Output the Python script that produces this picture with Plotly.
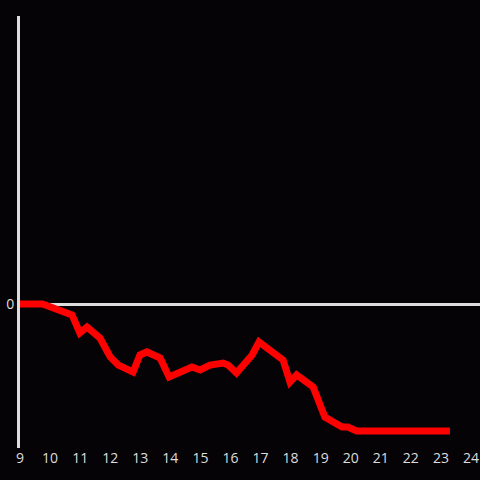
import plotly.graph_objects as go

# time of day (hours) and cumulative value
hours = [9.0, 9.75, 10.73, 10.99, 11.23, 11.66, 12.0, 12.27, 12.76, 12.99, 13.22,
         13.66, 13.96, 14.72, 14.99, 15.32, 15.76, 15.92, 16.2, 16.72, 16.95,
         17.75, 17.98, 18.2, 18.75, 18.98, 19.14, 19.71, 19.9, 20.2, 23.3]
values = [0.0, 0.0, -0.076, -0.201, -0.160, -0.236, -0.368, -0.424, -0.472, -0.354, -0.333,
          -0.375, -0.507, -0.438, -0.458, -0.424, -0.410, -0.424, -0.479, -0.354, -0.264,
          -0.389, -0.542, -0.493, -0.576, -0.715, -0.785, -0.854, -0.854, -0.882, -0.882]
x_ticks = list(range(9, 25))

fig = go.Figure(go.Scatter(
    x=hours, y=values, mode="lines",
    line=dict(color="#ff0000", width=7),
    hoverinfo="skip",
))

fig.update_layout(
    width=480, height=480,
    paper_bgcolor="#050306", plot_bgcolor="#050306",
    margin=dict(l=20, r=0, t=16, b=32),
    showlegend=False,
    font=dict(family="Open Sans", size=14, color="#dddddd"),
)
fig.update_xaxes(
    range=[9, 24.3], tickvals=x_ticks, ticktext=[str(t) for t in x_ticks],
    showgrid=False, zeroline=False, showline=False, ticks="",
)
fig.update_yaxes(
    range=[-1, 2], tickvals=[0], ticktext=["0"],
    showgrid=False, zeroline=True, zerolinecolor="#dddddd", zerolinewidth=3,
    showline=True, linecolor="#dddddd", linewidth=3, ticks="",
    layer="below traces",
)

# drop the page's default body margin so the chart fills the window
fig.write_html("out.html", config={"displayModeBar": False},
               post_script="document.body.style.margin='0';")
